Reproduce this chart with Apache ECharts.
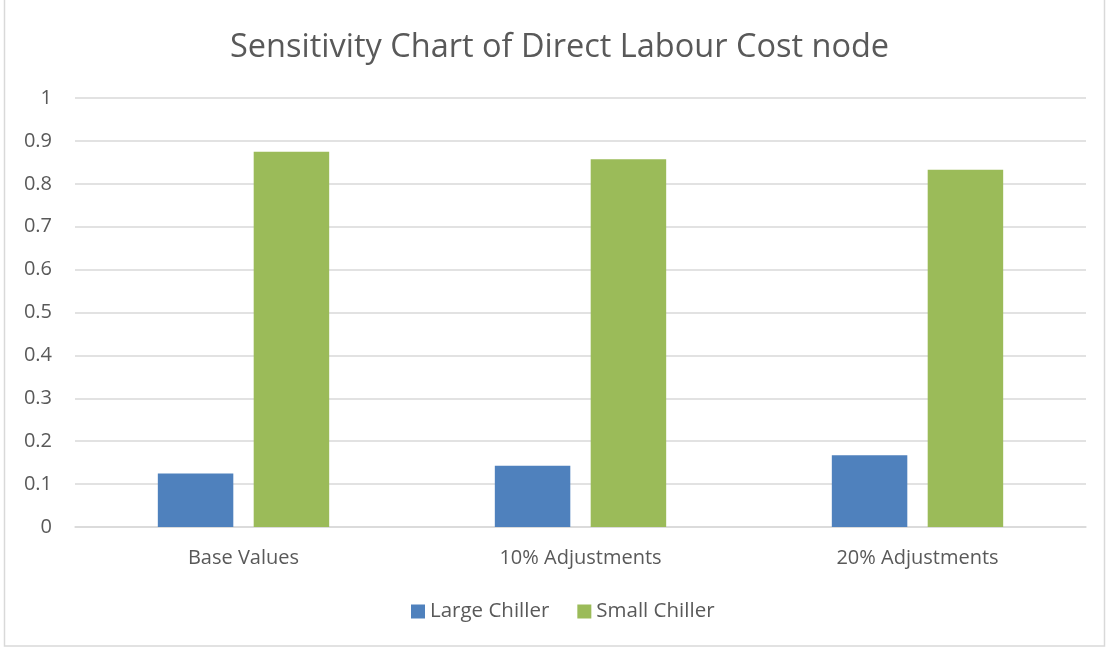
<!DOCTYPE html>
<html>
<head>
<meta charset="utf-8">
<script src="https://cdn.jsdelivr.net/npm/echarts@6/dist/echarts.min.js"></script>
<style>
  html, body { margin: 0; padding: 0; background: #fff; }
  #chart { width: 1109px; height: 650px; }
</style>
</head>
<body>
<div id="chart"></div>
<script>
// Scenarios on the x axis
const categories = ['Base Values', '10% Adjustments', '20% Adjustments'];
// Sensitivity values per chiller option
const largeChiller = [0.125, 0.143, 0.167];
const smallChiller = [0.875, 0.857, 0.833];
const seriesNames = ['Large Chiller', 'Small Chiller'];
const titleText = 'Sensitivity Chart of Direct Labour Cost node';

const textColor = '#595959';
const gridColor = '#d9d9d9';
const fontFamily = '"Open Sans", "Noto Sans", sans-serif';

const chart = echarts.init(document.getElementById('chart'), null, { renderer: 'canvas' });

chart.setOption({
  backgroundColor: '#ffffff',
  animation: false,
  color: ['#4F81BD', '#9BBB59'],
  textStyle: { fontFamily: fontFamily },
  title: {
    text: titleText,
    left: 225,
    top: 26,
    textStyle: { fontSize: 32.5, fontWeight: 'normal', color: textColor, fontFamily: fontFamily }
  },
  legend: {
    data: seriesNames,
    bottom: 23,
    left: 406,
    itemWidth: 14,
    itemHeight: 14,
    itemGap: 28,
    icon: 'rect',
    textStyle: { fontSize: 20.5, color: textColor, fontFamily: fontFamily }
  },
  grid: { left: 75, right: 23, top: 98, bottom: 123, containLabel: false },
  xAxis: {
    type: 'category',
    data: categories,
    axisLine: { show: true, lineStyle: { color: gridColor, width: 1.5 } },
    axisTick: { show: false },
    axisLabel: { color: textColor, fontSize: 20, margin: 21, fontFamily: fontFamily }
  },
  yAxis: {
    type: 'value',
    min: 0,
    max: 1,
    interval: 0.1,
    axisLine: { show: false },
    axisTick: { show: false },
    splitLine: { lineStyle: { color: gridColor, width: 1.5 } },
    axisLabel: {
      color: textColor,
      fontSize: 20,
      margin: 23,
      fontFamily: fontFamily,
      formatter: v => String(+v.toFixed(1))
    }
  },
  series: [
    {
      name: seriesNames[0],
      type: 'bar',
      data: largeChiller,
      barWidth: '22.4%',
      barGap: '27%'
    },
    {
      name: seriesNames[1],
      type: 'bar',
      data: smallChiller,
      barWidth: '22.4%',
      barGap: '27%'
    }
  ],
  graphic: [{
    type: 'rect',
    silent: true,
    shape: { x: 4.5, y: -1, width: 1100, height: 647 },
    style: { fill: 'none', stroke: gridColor, lineWidth: 1.5 }
  }]
});
</script>
</body>
</html>
